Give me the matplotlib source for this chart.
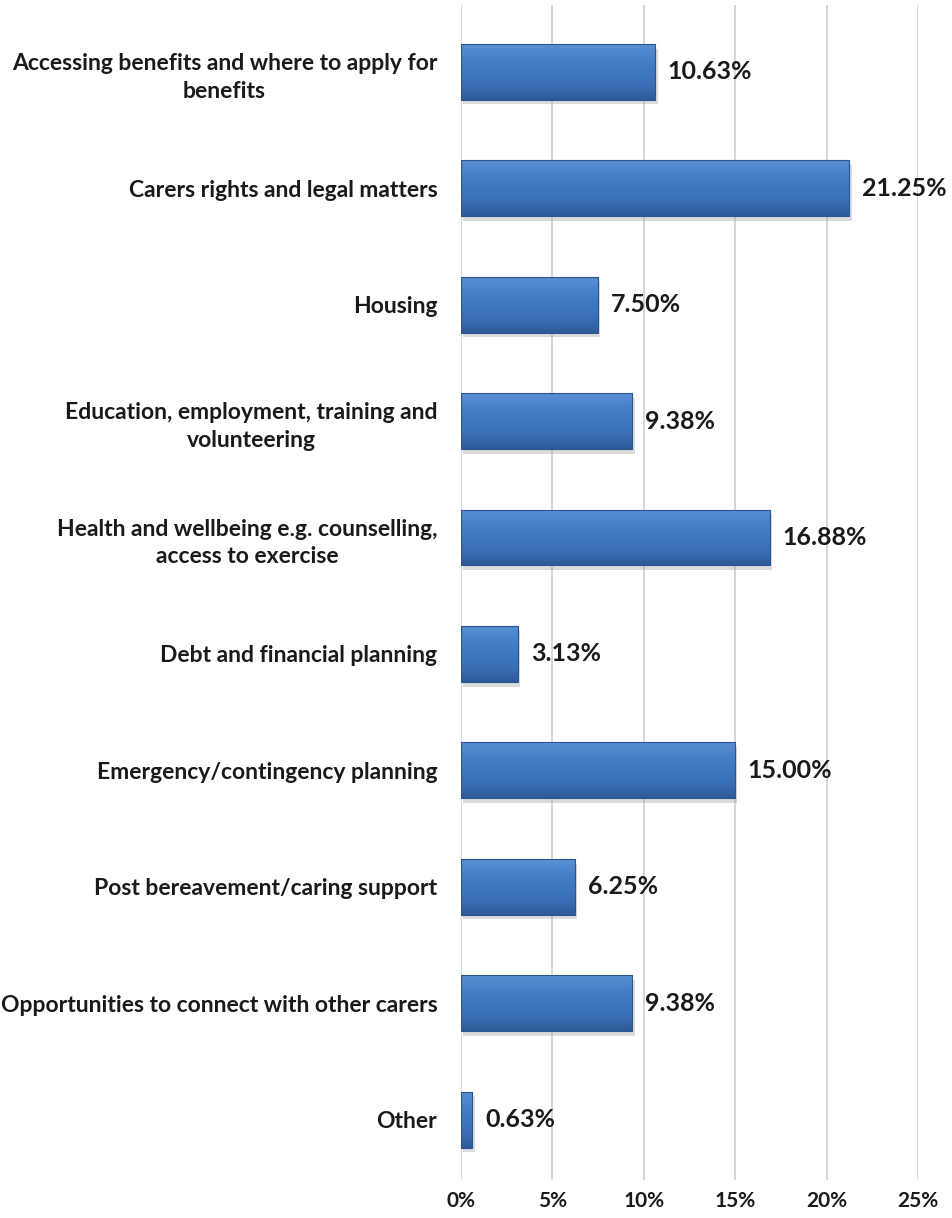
import numpy as np
import matplotlib.pyplot as plt
from matplotlib.colors import LinearSegmentedColormap

categories = [
    "Accessing benefits and where to apply for\nbenefits",
    "Carers rights and legal matters",
    "Housing",
    "Education, employment, training and\nvolunteering",
    "Health and wellbeing e.g. counselling,\naccess to exercise",
    "Debt and financial planning",
    "Emergency/contingency planning",
    "Post bereavement/caring support",
    "Opportunities to connect with other carers",
    "Other",
]
values = [10.63, 21.25, 7.50, 9.38, 16.88, 3.13, 15.00, 6.25, 9.38, 0.63]
xticks = [0, 5, 10, 15, 20, 25]

plt.rcParams['font.family'] = ['Lato', 'DejaVu Sans']

fig = plt.figure(figsize=(9.53, 12.18), dpi=100)
ax = fig.add_axes([0.4837, 0.031, 0.4796, 0.965])

bar_h = 0.48
y = np.arange(len(values))

# vertical shading used to give the bars a bevelled look
shade = LinearSegmentedColormap.from_list(
    "bevel", ["#5a8fd2", "#4880c8", "#3f77bf", "#3a6fb5", "#2d5b98"])
grad = np.linspace(0, 1, 64).reshape(-1, 1)

bars = ax.barh(y, values, height=bar_h, color="none", edgecolor="none", zorder=3)
for rect, v in zip(bars, values):
    x0, y0 = rect.get_x(), rect.get_y()
    w, h = rect.get_width(), rect.get_height()
    # soft drop shadow
    ax.add_patch(plt.Rectangle((x0 + 0.12, y0 + 0.04), w, h,
                               color="#9a9a9a", alpha=0.35, lw=0, zorder=2))
    im = ax.imshow(grad, cmap=shade, aspect="auto", zorder=3,
                   extent=(x0, x0 + w, y0 + h, y0), interpolation="bilinear")
    im.set_clip_path(rect)
    ax.add_patch(plt.Rectangle((x0, y0), w, h, fill=False,
                               ec="#2a5590", lw=0.8, zorder=4))
    ax.annotate(f"{v:.2f}%", (v, y0 + h / 2), xytext=(9, 0),
                textcoords="offset points", va="center", ha="left",
                fontsize=18, fontweight="bold", color="#1a1a1a", zorder=5)

ax.set_xlim(0, 25)
ax.set_ylim(len(values) - 1 + 0.52, -0.575)
ax.set_xticks(xticks)
ax.set_xticklabels([f"{t}%" for t in xticks], fontsize=15, fontweight="bold",
                   color="#1a1a1a")
ax.set_yticks(y)
ax.set_yticklabels(categories, fontsize=16.5, fontweight="bold", color="#1a1a1a",
                   linespacing=1.4)
for lab in ax.get_yticklabels():
    lab.set_multialignment("center")

ax.xaxis.grid(True, color="#d0d0d0", lw=1.2, zorder=0)
ax.set_axisbelow(True)
for s in ax.spines.values():
    s.set_visible(False)
ax.tick_params(axis="both", length=0)
ax.tick_params(axis="x", pad=8)
ax.tick_params(axis="y", pad=17)

fig.savefig("out.png", dpi=100)
